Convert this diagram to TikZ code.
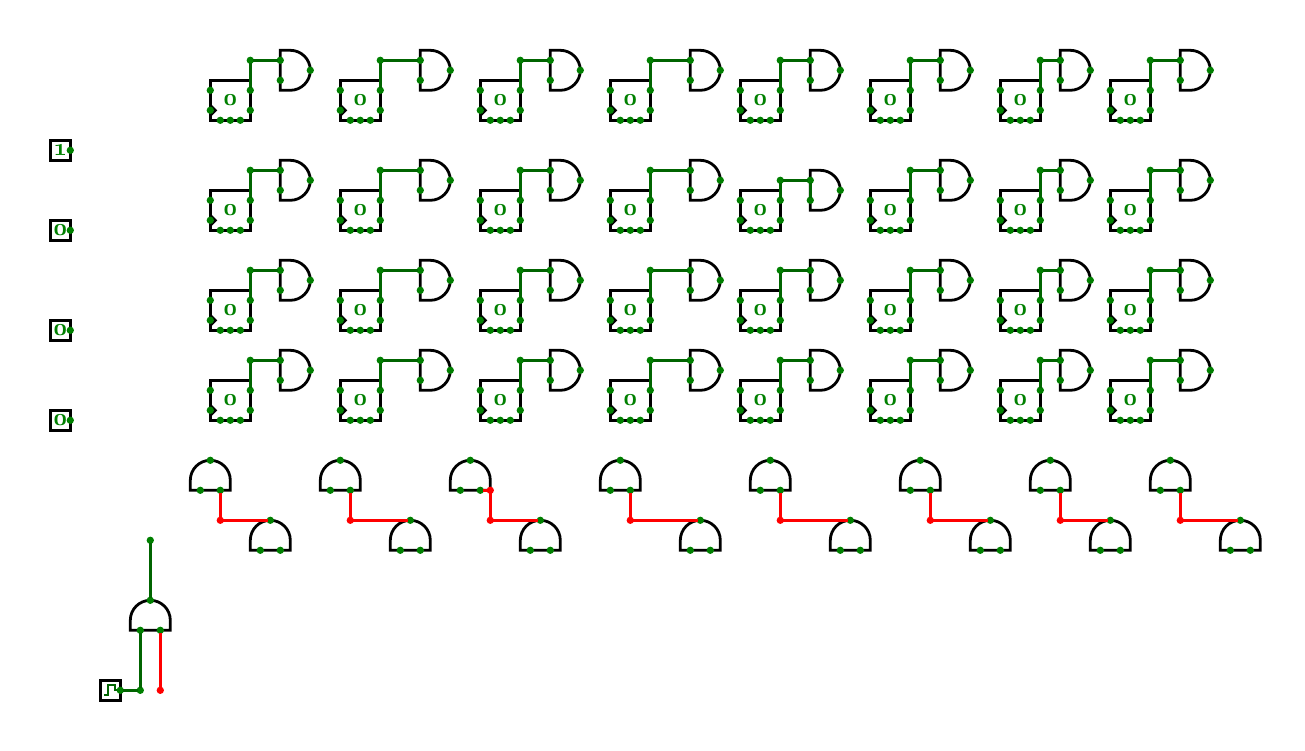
\documentclass[tikz,border=0pt]{standalone}
\usepackage{fontspec}
\newfontfamily\valfont[Numbers=OldStyle]{Latin Modern Roman}
\definecolor{wiredark}{RGB}{0,100,0}
\definecolor{pinlit}{RGB}{0,128,0}
\tikzset{
    x=0.75pt, y=-0.75pt,
    pin/.style={circle, fill=pinlit, inner sep=0pt, outer sep=-1pt, minimum size=5.5pt},
    redpin/.style={circle, fill=red, inner sep=0pt, outer sep=-1pt, minimum size=5.5pt},
    wire/.style={wiredark, line width=2pt},
    redwire/.style={red, line width=2pt},
    gatebody/.style={black, line width=2.1pt},
    value/.style={text=pinlit, font=\fontsize{18}{18}\valfont\bfseries, inner sep=0pt},
    regbox/.style={value, draw=black, line width=2.1pt, minimum size=30pt},
    inbox/.style={value, draw=black, line width=2.6pt, minimum size=15pt},
}
% register at (#1,#2) wired to a D-shaped gate at (#3,#4)
\newcommand{\regcell}[4]{
    \node[regbox] (reg#1-#2) at (#1+20,#2+20) {0};
    \draw[gatebody] (#1,#2+25) -- (#1+5,#2+30) -- (#1,#2+35); %clock notch
    \draw[gatebody] (#3,#4) -- (#3+10,#4) arc (-90:90:20) -- (#3,#4+40) -- cycle;
    \node[pin] (reg#1-#2-d) at (#1,#2+10) {};
    \node[pin] (reg#1-#2-c) at (#1,#2+30) {};
    \node[pin] (reg#1-#2-p) at (#1+10,#2+40) {};
    \node[pin] (reg#1-#2-q) at (#1+20,#2+40) {};
    \node[pin] (reg#1-#2-r) at (#1+30,#2+40) {};
    \node[pin] (reg#1-#2-o) at (#1+40,#2+10) {};
    \node[pin] (reg#1-#2-n) at (#1+40,#2+30) {};
    \node[pin] (reg#1-#2-t) at (#1+40,#4+10) {};
    \node[pin] (gate#3-#4-a) at (#3,#4+10) {};
    \node[pin] (gate#3-#4-b) at (#3,#4+30) {};
    \node[pin] (gate#3-#4-y) at (#3+30,#4+20) {};
    \draw[wire] (reg#1-#2-o) -- (reg#1-#2-t) -- (gate#3-#4-a);
}
% dome gate, top left corner at (#1,#2)
\newcommand{\domegate}[2]{
    \draw[gatebody] (#1,#2+30) -- (#1,#2+20) arc (180:360:20) -- (#1+40,#2+30) -- cycle;
    \node[pin] (dome#1-t) at (#1+20,#2) {};
    \node[pin] (dome#1-a) at (#1+10,#2+30) {};
    \node[pin] (dome#1-b) at (#1+30,#2+30) {};
}
\begin{document}
\begin{tikzpicture}
    \useasboundingbox (-0.3,-0.3) rectangle (1304.7,749.7);

    % inputs
    \node[inbox] (in1) at (60,150) {1};
    \node[inbox] (in2) at (60,230) {0};
    \node[inbox] (in3) at (60,330) {0};
    \node[inbox] (in4) at (60,420) {0};
    \foreach \n/\y in {1/150,2/230,3/330,4/420}
        \node[pin] (in\n-o) at (70,\y) {};

    % registers
    \foreach \bx/\gx in {210/280,340/420,480/550,610/690,870/940,1000/1060,1110/1180}
        \foreach \by/\gy in {80/50,190/160,290/260,380/350}
            \regcell{\bx}{\by}{\gx}{\gy};
    \foreach \by/\gy in {80/50,190/170,290/260,380/350}
        \regcell{740}{\by}{810}{\gy};
    \draw[wire] (gate810-170-a) -- (gate810-170-b); %tied inputs

    % lower gates
    \foreach \ax/\bx in {190/250,320/390,450/520,600/680,750/830,900/970,1030/1090,1150/1220} {
        \domegate{\ax}{460}
        \domegate{\bx}{520}
    }
    \foreach \ax/\bx in {190/250,320/390,600/680,750/830,900/970,1030/1090,1150/1220} {
        \node[redpin] (bend\ax) at (\ax+30,520) {};
        \draw[redwire] (dome\ax-b) -- (bend\ax) -- (dome\bx-t);
    }
    \node[redpin] (jog) at (490,490) {};
    \node[redpin] (bend450) at (490,520) {};
    \draw[redwire] (dome450-b) -- (jog) -- (bend450) -- (dome520-t);

    % clock and last gate
    \node[inbox] (clk) at (110,690) {};
    \draw[wiredark, line width=1.4pt] (103.5,695) -- (108,695) -- (108,685) -- (115,685) -- (115,690) -- (118,690); %wave
    \node[pin] (clk-o) at (120,690) {};
    \domegate{130}{600}
    \node[pin] (clk-w) at (140,690) {};
    \node[redpin] (low) at (160,690) {};
    \node[pin] (out) at (150,540) {};
    \draw[wire] (clk-o) -- (clk-w) -- (dome130-a);
    \draw[redwire] (low) -- (dome130-b);
    \draw[wire] (dome130-t) -- (out);
\end{tikzpicture}
\end{document}
